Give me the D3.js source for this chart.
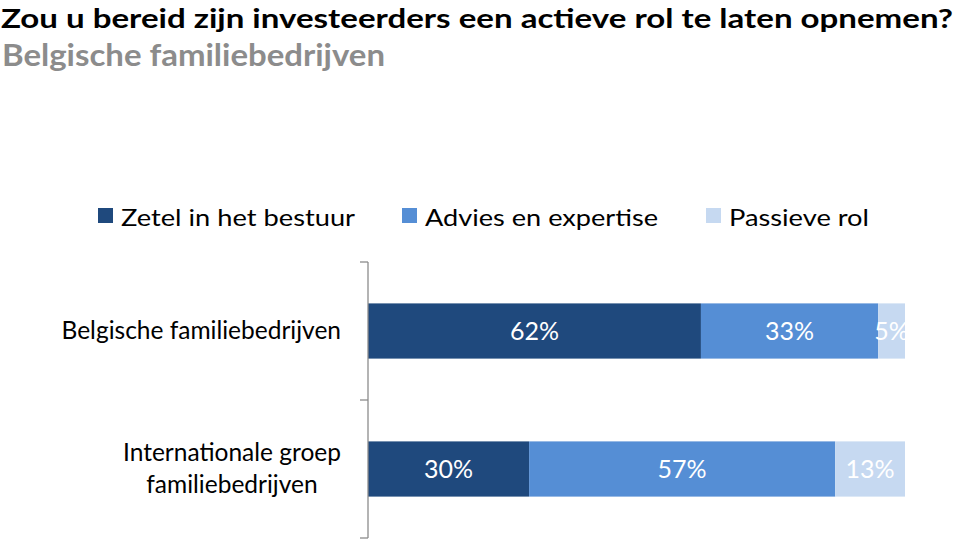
<!DOCTYPE html>
<html><head><meta charset="utf-8">
<script src="https://cdn.jsdelivr.net/npm/d3@7"></script>
<style>body{margin:0;background:#fff}svg{display:block}text{font-family:Lato,"Open Sans",sans-serif}</style>
</head><body>
<svg id="c" width="960" height="540"></svg>
<script>
const title = "Zou u bereid zijn investeerders een actieve rol te laten opnemen?";
const subtitle = "Belgische familiebedrijven";
const categories = ["Belgische familiebedrijven", "Internationale groep\nfamiliebedrijven"];
const seriesNames = ["Zetel in het bestuur", "Advies en expertise", "Passieve rol"];
const seriesColors = ["#1F497D", "#558ED5", "#C6D9F1"];
const zetel = [62, 30];
const advies = [33, 57];
const passief = [5, 13];

const svg = d3.select("#c");
function fit(sel, w){ sel.each(function(){ const L=this.getComputedTextLength(); if(Math.abs(L-w)>1) d3.select(this).attr("textLength", w).attr("lengthAdjust","spacingAndGlyphs"); }); }

svg.append("text").attr("x",1).attr("y",27.5).attr("font-size",27.5).attr("font-weight","bold").attr("fill","#000").text(title).call(fit,952);
svg.append("text").attr("x",2).attr("y",66).attr("font-size",31).attr("font-weight","bold").attr("fill","#8c8c8c").text(subtitle).call(fit,383);

// legend
const legX = [98, 402, 706], legW = [234, 233, 140];
const lg = svg.append("g");
seriesNames.forEach((n,i)=>{
  lg.append("rect").attr("x",legX[i]).attr("y",208).attr("width",15).attr("height",15).attr("fill",seriesColors[i]);
  lg.append("text").attr("x",legX[i]+23).attr("y",226).attr("font-size",24).attr("fill","#000").text(n).call(fit,legW[i]);
});

const rows = categories.map((c,i)=>({cat:c, vals:[zetel[i],advies[i],passief[i]]}));
const x = d3.scaleLinear().domain([0,100]).range([368,905]);
const y = d3.scaleBand().domain(categories).range([262,538]).paddingInner(0.6).paddingOuter(0.3);

const stack = d3.stack().keys([0,1,2]).value((d,k)=>d.vals[k]);
const series = stack(rows);

const g = svg.append("g");
series.forEach((s,k)=>{
  g.selectAll(null).data(s).enter().append("rect")
    .attr("x",d=>x(d[0])).attr("width",d=>x(d[1])-x(d[0]))
    .attr("y",d=>y(d.data.cat)).attr("height",y.bandwidth())
    .attr("fill",seriesColors[k]);
});
series.forEach((s,k)=>{
  g.selectAll(null).data(s).enter().append("text")
    .attr("x",d=>(x(d[0])+x(d[1]))/2).attr("y",d=>y(d.data.cat)+y.bandwidth()/2+9)
    .attr("text-anchor","middle").attr("font-size",25).attr("fill","#fff")
    .text(d=>d.data.vals[k]+"%");
});

// axis
const ax = svg.append("g").attr("stroke","#8c8c8c").attr("stroke-width",1.3);
const x0 = x(0);
ax.append("line").attr("x1",x0).attr("x2",x0).attr("y1",y.range()[0]).attr("y2",y.range()[1]);
const tickYs = [y.range()[0]].concat(categories.slice(1).map(c=>y(c)-y.step()*y.paddingInner()/2)).concat([y.range()[1]]);
tickYs.forEach(t=>ax.append("line").attr("x1",x0-8).attr("x2",x0).attr("y1",t).attr("y2",t));

// category labels
const labelRight = 341;
categories.forEach(c=>{
  const lines = c.split("\n");
  const cy = y(c)+y.bandwidth()/2;
  const lh = 32;
  const t = svg.append("text").attr("font-size",24.5).attr("fill","#000").attr("text-anchor","middle");
  lines.forEach((ln,i)=>{
    t.append("tspan").attr("x",0).attr("y",cy+8+(i-(lines.length-1)/2)*lh).text(ln);
  });
  let maxW=0; t.selectAll("tspan").each(function(){maxW=Math.max(maxW,this.getComputedTextLength());});
  t.selectAll("tspan").attr("x",labelRight-maxW/2);
});
</script>
</body></html>
